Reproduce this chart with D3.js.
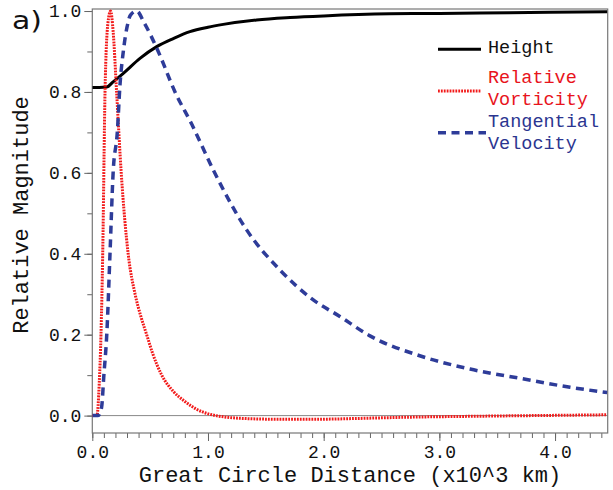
<!DOCTYPE html>
<html>
<head>
<meta charset="utf-8">
<script src="https://d3js.org/d3.v7.min.js"></script>
<style>
  body { margin: 0; background: #fff; }
  text { font-family: "Liberation Mono", "Courier New", Courier, "Nimbus Mono PS", "FreeMono", monospace; }
  text.panel { font-family: "DejaVu Sans", Verdana, sans-serif; }
</style>
</head>
<body>
<div id="chart"></div>
<script>
// Series (distance in 10^3 km, relative magnitude)
const heightX = [0, 0.06, 0.124, 0.18, 0.268, 0.412, 0.557, 0.70, 0.844, 1.0, 1.132, 1.42, 1.71, 2.0, 2.57, 3.0, 3.35, 3.95, 4.45];
const heightY = [0.811, 0.811, 0.812, 0.825, 0.846, 0.883, 0.912, 0.932, 0.949, 0.96, 0.967, 0.978, 0.984, 0.988, 0.993, 0.994, 0.995, 0.997, 0.998];

const vortX = [0, 0.04, 0.06, 0.075, 0.09, 0.11, 0.135, 0.158, 0.18, 0.21, 0.25, 0.31, 0.37, 0.42, 0.47, 0.52, 0.6, 0.7, 0.8, 0.9, 1.02, 1.3, 1.6, 1.94, 2.3, 2.72, 3.2, 3.8, 4.45];
const vortY = [0, 0, 0.08, 0.2, 0.4, 0.8, 0.97, 1.0, 0.95, 0.8, 0.6, 0.4, 0.3, 0.245, 0.2, 0.155, 0.1, 0.06, 0.035, 0.016, 0.003, -0.007, -0.009, -0.009, -0.007, -0.004, -0.002, 0, 0.002];

const velX = [0, 0.05, 0.08, 0.10, 0.125, 0.153, 0.18, 0.216, 0.24, 0.268, 0.30, 0.33, 0.383, 0.45, 0.57, 0.715, 0.86, 1.046, 1.334, 1.622, 1.91, 2.14, 2.40, 2.83, 3.265, 3.70, 4.13, 4.45];
const velY = [0, 0, 0.02, 0.1, 0.2, 0.4, 0.6, 0.7, 0.82, 0.9, 0.96, 0.99, 1.0, 0.97, 0.9, 0.8, 0.72, 0.607, 0.459, 0.36, 0.286, 0.245, 0.197, 0.148, 0.115, 0.092, 0.070, 0.057];

const xTicks = [0, 1, 2, 3, 4];
const yTicks = [0, 0.2, 0.4, 0.6, 0.8, 1.0];
const legendNames = [["Height"], ["Relative", "Vorticity"], ["Tangential", "Velocity"]];

const W = 613, H = 490;
const plotLeft = 92.3, plotRight = 607.7, plotTop = 9, plotBottom = 433;

const svg = d3.select("#chart").append("svg")
    .attr("width", W)
    .attr("height", H);

const x = d3.scaleLinear().domain([0, 4.455]).range([plotLeft, plotRight]);
const y = d3.scaleLinear().domain([-0.043, 1.005]).range([plotBottom, plotTop]);

// zero line
svg.append("line")
    .attr("x1", plotLeft).attr("x2", plotRight)
    .attr("y1", y(0)).attr("y2", y(0))
    .attr("stroke", "#888").attr("stroke-width", 1);

// minor ticks every 0.1
const xMinor = d3.range(0, 45).map(i => i / 10).filter(v => v <= 4.455);
const yMinor = d3.range(0, 11).map(i => i / 10);

const xAxisG = svg.append("g").attr("transform", `translate(0,${plotBottom})`);
xAxisG.call(d3.axisBottom(x).tickValues(xMinor).tickSize(5).tickFormat(""));
xAxisG.select(".domain").remove();
const xMajor = svg.append("g").attr("transform", `translate(0,${plotBottom})`)
    .call(d3.axisBottom(x).tickValues(xTicks).tickSize(8).tickPadding(4).tickFormat(d3.format(".1f")));
xMajor.select(".domain").remove();

const yAxisG = svg.append("g").attr("transform", `translate(${plotLeft},0)`);
yAxisG.call(d3.axisLeft(y).tickValues(yMinor).tickSize(5).tickFormat(""));
yAxisG.select(".domain").remove();
const yMajor = svg.append("g").attr("transform", `translate(${plotLeft},0)`)
    .call(d3.axisLeft(y).tickValues(yTicks).tickSize(8).tickPadding(3).tickFormat(d3.format(".1f")));
yMajor.select(".domain").remove();

svg.selectAll(".tick line").attr("stroke", "#666");
svg.selectAll(".tick text")
    .attr("font-size", 18)
    .attr("fill", "#111");

// frame
svg.append("rect")
    .attr("x", plotLeft).attr("y", plotTop)
    .attr("width", plotRight - plotLeft).attr("height", plotBottom - plotTop)
    .attr("fill", "none").attr("stroke", "#777").attr("stroke-width", 1.2);

const line = d3.line()
    .x(d => x(d[0]))
    .y(d => y(d[1]))
    .curve(d3.curveMonotoneX);

svg.append("clipPath").attr("id", "clip")
    .append("rect").attr("x", plotLeft).attr("y", plotTop - 3)
    .attr("width", plotRight - plotLeft).attr("height", plotBottom - plotTop + 3);

const series = [
    { xs: heightX, ys: heightY, color: "#000", width: 3, dash: null },
    { xs: vortX, ys: vortY, color: "#f21a1a", width: 3, dash: "1.8,1.1" },
    { xs: velX, ys: velY, color: "#2e3c99", width: 3.5, dash: "8,5.5" }
];

series.forEach(s => {
    svg.append("path")
        .datum(d3.zip(s.xs, s.ys))
        .attr("clip-path", "url(#clip)")
        .attr("fill", "none")
        .attr("stroke", s.color)
        .attr("stroke-width", s.width)
        .attr("stroke-dasharray", s.dash)
        .attr("d", line);
});

// legend
const legendLineY = [49.3, 91, 132.7];
const legendTextY = [[53.3], [83.3, 105], [126.7, 149.3]];
const legendTextColor = ["#111", "#e8141c", "#2b3590"];
series.forEach((s, i) => {
    svg.append("line")
        .attr("x1", 438).attr("x2", i === 2 ? 486 : 481)
        .attr("y1", legendLineY[i]).attr("y2", legendLineY[i])
        .attr("stroke", s.color)
        .attr("stroke-width", s.width)
        .attr("stroke-dasharray", s.dash);
    legendNames[i].forEach((t, j) => {
        svg.append("text")
            .attr("x", 488)
            .attr("y", legendTextY[i][j])
            .attr("font-size", 18.5)
            .attr("fill", legendTextColor[i])
            .text(t);
    });
});

// axis titles
svg.append("text")
    .attr("x", (plotLeft + plotRight) / 2)
    .attr("y", 482)
    .attr("text-anchor", "middle")
    .attr("font-size", 22)
    .attr("fill", "#111")
    .text("Great Circle Distance (x10^3 km)");

svg.append("text")
    .attr("transform", "rotate(-90)")
    .attr("x", -215)
    .attr("y", 28)
    .attr("text-anchor", "middle")
    .attr("font-size", 22)
    .attr("fill", "#111")
    .text("Relative Magnitude");

// panel label
svg.append("text")
    .attr("class", "panel")
    .attr("x", 12)
    .attr("y", 29)
    .attr("font-size", 24)
    .attr("textLength", 30)
    .attr("lengthAdjust", "spacingAndGlyphs")
    .attr("fill", "#111")
    .text("a)");
</script>
</body>
</html>
